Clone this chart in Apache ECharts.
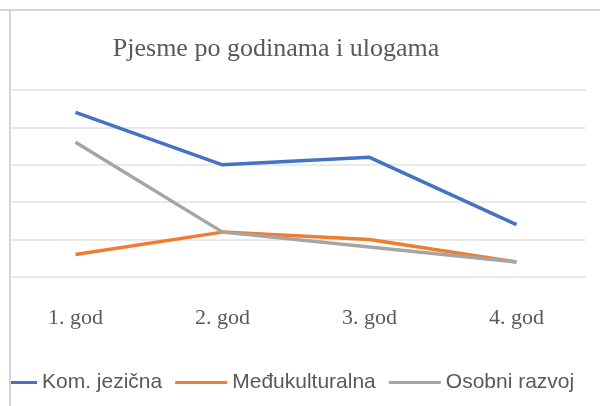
<!DOCTYPE html>
<html lang="hr">
<head>
    <meta charset="UTF-8">
    <title>Pjesme po godinama i ulogama</title>
    <style>
        html, body { margin: 0; padding: 0; background: #fff; }
        #chart { width: 600px; height: 406px; }
    </style>
</head>
<body>
    <div id="chart"></div>
    <script src="https://cdn.jsdelivr.net/npm/echarts@6/dist/echarts.min.js"></script>
    <script>
        // kategorije (godine)
        const godine = ['1. god', '2. god', '3. god', '4. god']
        // broj pjesama po ulogama
        const komJezicna = [22, 15, 16, 7]
        const meduKulturalna = [3, 6, 5, 2]
        const osobniRazvoj = [18, 6, 4, 2]

        const myChart = echarts.init(document.getElementById('chart'))

        const sivaBoja = '#595959'

        const option = {
            animation: false,
            title: {
                text: 'Pjesme po godinama i ulogama',
                left: 271,
                top: 31,
                textAlign: 'center',
                textStyle: {
                    fontFamily: 'Liberation Serif',
                    fontSize: 26,
                    fontWeight: 'normal',
                    color: sivaBoja
                }
            },
            legend: {
                left: -20,
                top: 367,
                itemWidth: 52,
                itemHeight: 3,
                itemGap: 13,
                icon: 'rect',
                textStyle: {
                    fontFamily: 'Liberation Sans',
                    fontSize: 21,
                    color: sivaBoja
                },
                data: ['Kom. jezična', 'Međukulturalna', 'Osobni razvoj']
            },
            grid: [
                /* glavna mreža za linije */
                { left: 2, width: 588, top: 90, height: 187 },
                /* samo za vodoravne crte mreže */
                { left: 11, width: 575, top: 90, height: 187 }
            ],
            xAxis: [{
                type: 'category',
                gridIndex: 0,
                data: godine,
                axisLine: { show: false },
                axisTick: { show: false },
                axisLabel: {
                    margin: 30,
                    fontFamily: 'Liberation Serif',
                    fontSize: 22,
                    color: sivaBoja
                }
            }, {
                type: 'category',
                gridIndex: 1,
                data: godine,
                show: false
            }],
            yAxis: [{
                type: 'value',
                gridIndex: 0,
                min: 0,
                max: 25,
                interval: 5,
                axisLabel: { show: false },
                axisLine: { show: false },
                axisTick: { show: false },
                splitLine: { show: false }
            }, {
                type: 'value',
                gridIndex: 1,
                min: 0,
                max: 25,
                interval: 5,
                axisLabel: { show: false },
                axisLine: { show: false },
                axisTick: { show: false },
                splitLine: {
                    lineStyle: { color: '#e3e3e3', width: 1.5 }
                }
            }],
            graphic: [
                /* okvir grafikona lijevo i gore */
                { type: 'rect', z: 100, shape: { x: 0, y: 0, width: 9, height: 406 }, style: { fill: '#fff' } },
                { type: 'line', z: 101, shape: { x1: 10, y1: 10, x2: 10, y2: 406 }, style: { stroke: '#d6d6d6', lineWidth: 2 } },
                { type: 'line', z: 101, shape: { x1: 0, y1: 10, x2: 600, y2: 10 }, style: { stroke: '#d6d6d6', lineWidth: 2 } }
            ],
            series: [{
                name: 'Kom. jezična',
                type: 'line',
                data: komJezicna,
                symbol: 'none',
                lineStyle: { width: 3.5, color: '#4472C4' },
                itemStyle: { color: '#4472C4' },
                z: 3
            }, {
                name: 'Međukulturalna',
                type: 'line',
                data: meduKulturalna,
                symbol: 'none',
                lineStyle: { width: 3.5, color: '#ED7D31' },
                itemStyle: { color: '#ED7D31' },
                z: 2
            }, {
                name: 'Osobni razvoj',
                type: 'line',
                data: osobniRazvoj,
                symbol: 'none',
                lineStyle: { width: 3.5, color: '#A5A5A5' },
                itemStyle: { color: '#A5A5A5' },
                z: 4
            }]
        }

        myChart.setOption(option)
    </script>
</body>
</html>
